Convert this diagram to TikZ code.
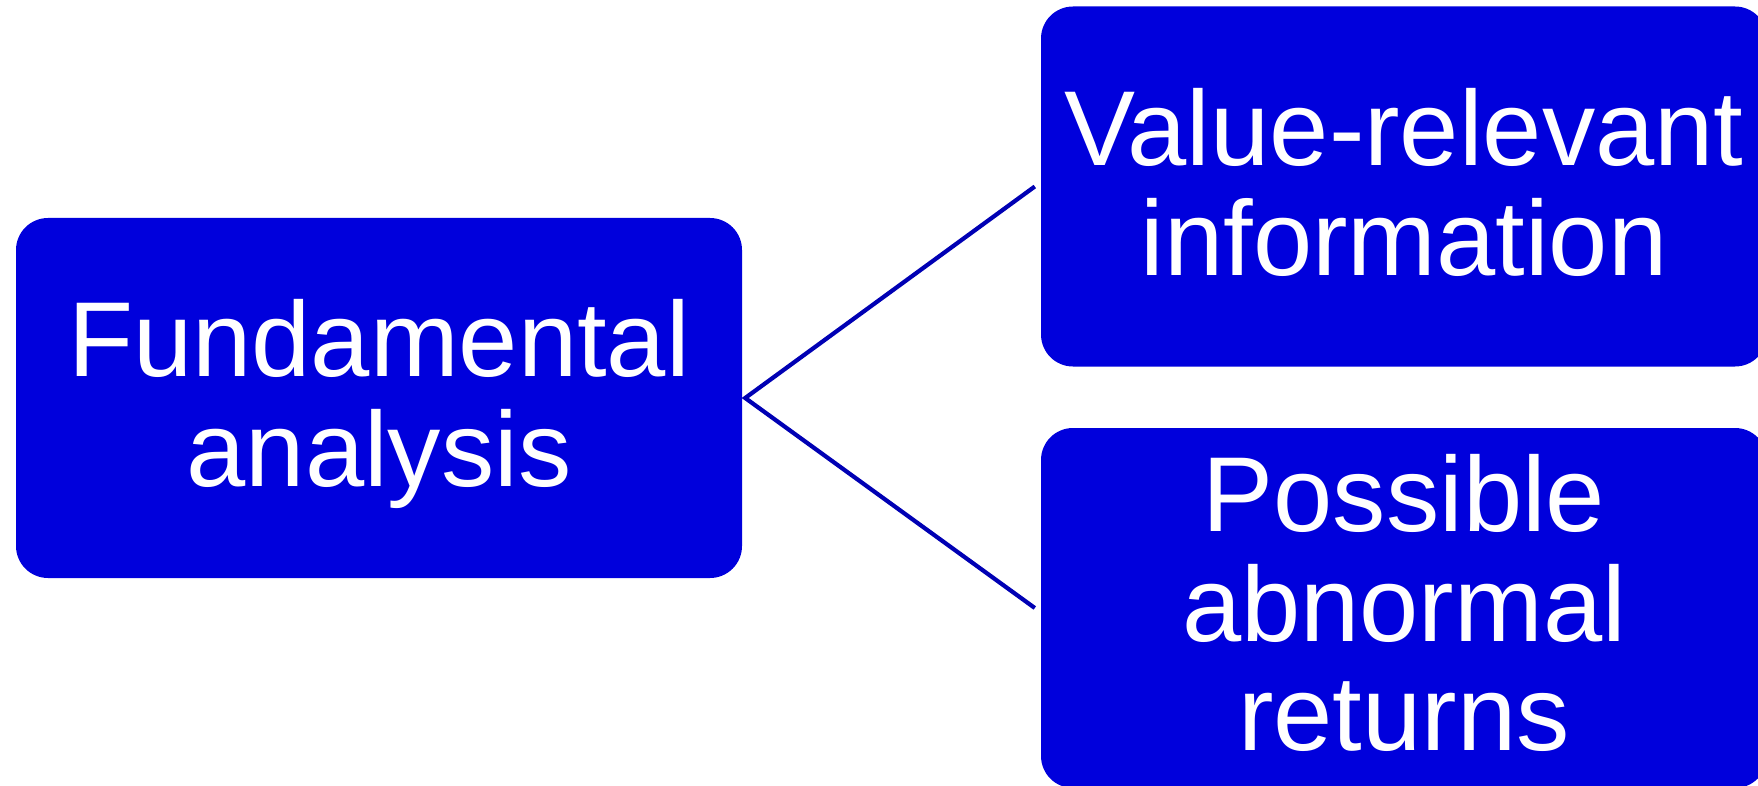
\documentclass[tikz,border=0pt]{standalone}
\usepackage{fontspec}
\setmainfont{Liberation Sans}
\usetikzlibrary{calc}
\definecolor{boxblue}{RGB}{0,0,220}
\definecolor{linkblue}{RGB}{0,0,180}
\tikzset{
  card/.style={rectangle, fill=boxblue, draw=none, rounded corners=32pt,
    minimum width=726pt, minimum height=360pt, inner sep=0pt},
  cardtext/.style={anchor=base, inner sep=0pt, text=white,
    font=\fontsize{106.5}{109}\selectfont},
  link/.style={draw=linkblue, line width=4.2pt}
}
\newcommand{\lines}[1]{\begin{tabular}[t]{@{}c@{}}#1\end{tabular}}
\begin{document}
\begin{tikzpicture}[x=1pt, y=-1pt]
  \clip (0,0) rectangle (1758,786);
  \fill[white] (0,0) rectangle (1758,786);

  % boxes
  \node[card] (L)  at (379,398)    {};
  \node[card] (TR) at (1404,186.5) {};
  \node[card] (BR) at (1404,608)   {};

  % labels (first baseline placed relative to the box centre)
  \node[cardtext] (Lt)  at ($(L.center)+(0,-21.3)$)  {\lines{Fundamental\\analysis}};
  \node[cardtext] (TRt) at ($(TR.center)+(0,-21.3)$) {\lines{Value-relevant\\information}};
  \node[cardtext] (BRt) at ($(BR.center)+(0,-76.3)$) {\lines{Possible\\abnormal\\returns}};

  % connectors
  \draw[link] ([xshift=-6pt]TR.west) -- ([xshift=3pt]L.east) -- ([xshift=-6pt]BR.west);
\end{tikzpicture}
\end{document}
